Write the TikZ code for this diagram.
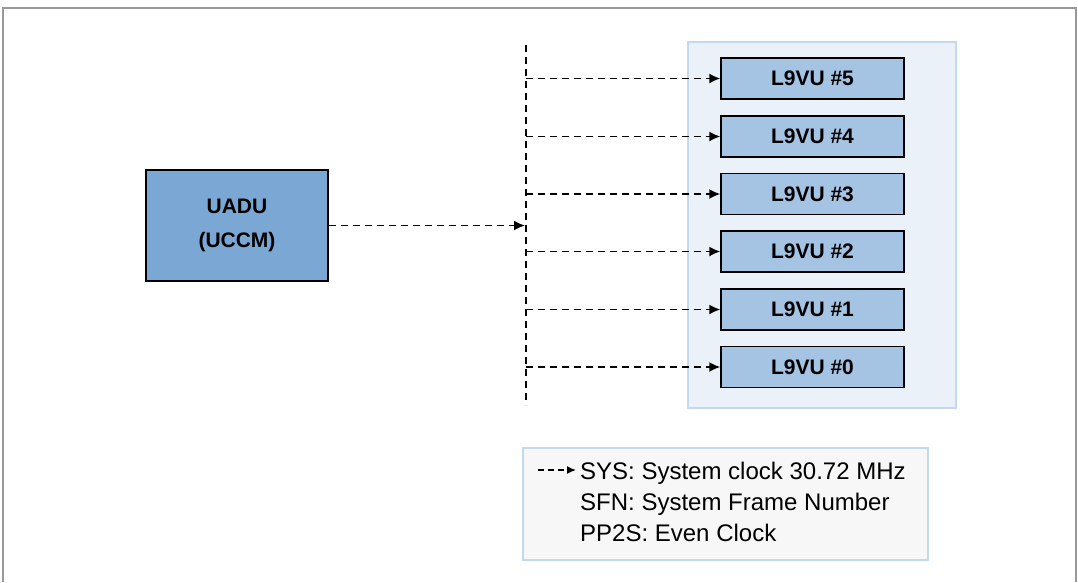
\documentclass[tikz,border=0pt]{standalone}
\usepackage{fontspec}
\setmainfont{Liberation Sans}
\usetikzlibrary{arrows.meta,positioning}
\definecolor{uadublue}{HTML}{7BA7D4}
\definecolor{unitblue}{HTML}{A5C3E2}
\definecolor{panelfill}{HTML}{EAF1F9}
\definecolor{paneledge}{HTML}{C5D9EE}
\definecolor{legendfill}{HTML}{F7F7F7}
\tikzset{
 unit/.style={draw=black,line width=1.4pt,fill=unitblue,minimum width=183pt,minimum height=41pt,font=\fontsize{21}{24}\selectfont\bfseries},
 clk/.style={dashed,dash pattern=on 7pt off 5pt,line width=1.8pt,-{Latex[length=11pt,width=10pt]}}
}
\begin{document}
\begin{tikzpicture}[x=1pt,y=-1pt]
 \useasboundingbox (0,0) rectangle (1078,582);
 \draw[gray!80,line width=1.5pt](3,582)--(3,8)--(1076,8)--(1076,582);
 \draw[paneledge,fill=panelfill,line width=1.5pt](688,42) rectangle (956,408);
 \node[draw=black,line width=1.4pt,fill=uadublue,minimum width=182pt,minimum height=111pt,align=center,font=\fontsize{21}{34}\selectfont\bfseries](uadu) at (237,225.5) {UADU\\(UCCM)};
 \coordinate (bustop) at (526,45);
 \coordinate (busbot) at (526,405);
 \draw[dashed,dash pattern=on 7pt off 5pt,line width=1.8pt](bustop)--(busbot);
 \foreach \i/\y in {5/78.5,4/136.5,3/194,2/251.5,1/309.5,0/367}{
  \node[unit](l9vu\i) at (812.5,\y) {L9VU \#\i};
  \draw[clk](bustop |- l9vu\i) -- (l9vu\i.west);
 }
 \draw[clk](uadu.east) -- ([xshift=-1pt]bustop |- uadu.east);
 \draw[paneledge,fill=legendfill,line width=1.5pt](523,448) rectangle (928,560);
 \coordinate (legfrom) at (538,470);
 \node[anchor=west,align=left,inner sep=0pt,font=\fontsize{24}{31}\selectfont](legend) at (580,502) {SYS: System clock 30.72 MHz\\SFN: System Frame Number\\PP2S: Even Clock};
 \draw[dashed,dash pattern=on 6pt off 4pt,line width=1.5pt,-{Latex[length=9pt,width=8pt]}](legfrom) -- ([xshift=-4pt]legfrom -| legend.west);
\end{tikzpicture}
\end{document}
